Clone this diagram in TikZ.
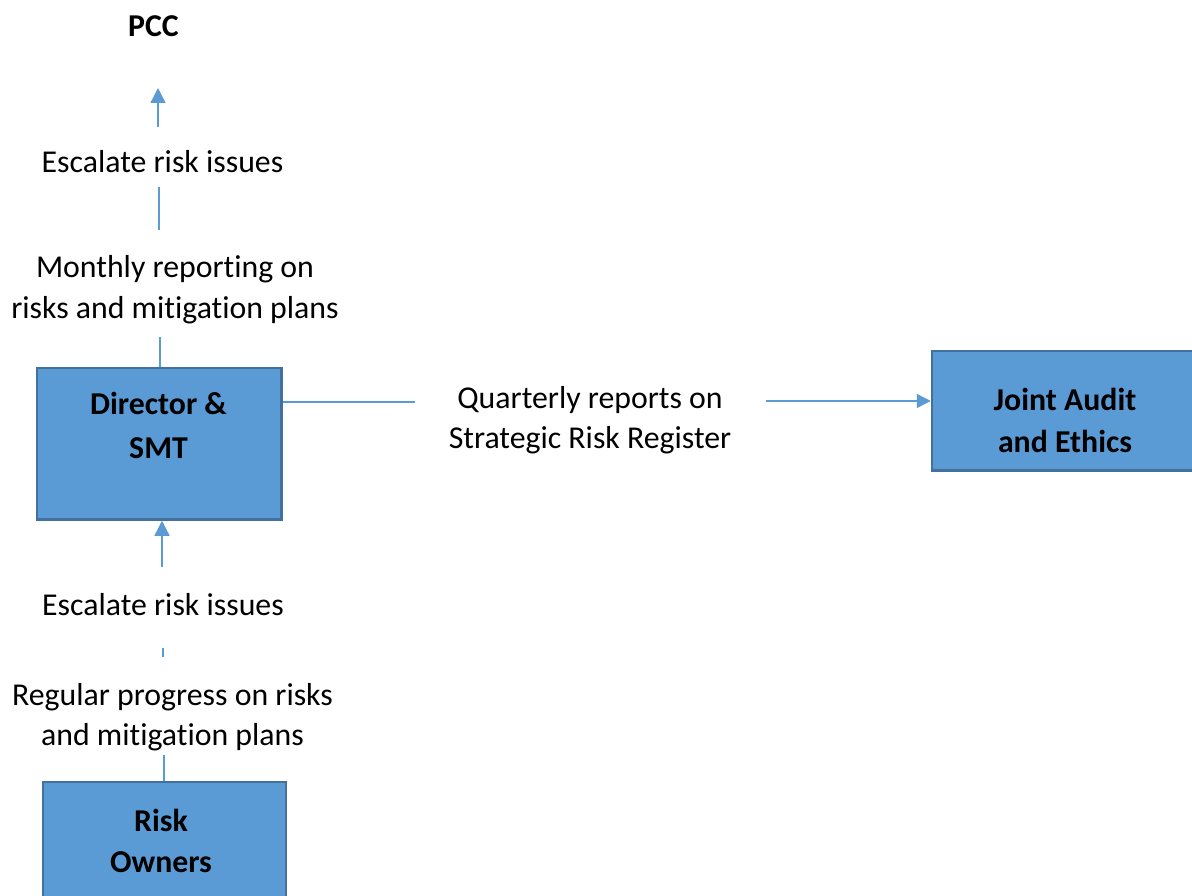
\documentclass[tikz,border=0pt]{standalone}
\usepackage{fontspec}
\setmainfont[Ligatures=CommonOff]{Carlito}
\usetikzlibrary{arrows.meta}
\definecolor{boxfill}{HTML}{5B9BD5}
\definecolor{boxline}{HTML}{41719C}
\definecolor{connc}{HTML}{5B9BD5}
\newcommand\twoline[2]{\begin{tabular}[t]{@{}c@{}}#1\\#2\end{tabular}}
\tikzset{
  lbl/.style={anchor=base, inner sep=0pt, font=\fontsize{31.8}{40}\selectfont},
  btxt/.style={anchor=base, inner sep=0pt, font=\fontsize{31.8}{#1}\selectfont\bfseries},
  btxt/.default=42,
  box/.style={draw=boxline, line width=2.5pt, fill=boxfill, inner sep=0pt},
  conn/.style={draw=connc, line width=1.3pt},
  arr/.style={conn, -{Triangle[width=15pt,length=15pt]}},
  harr/.style={conn, -{Triangle[width=14pt,length=14pt]}},
}
\begin{document}
\begin{tikzpicture}[x=1pt,y=-1pt]
\useasboundingbox (0,0) rectangle (1192,896);
% boxes
\node[box, minimum width=244.5pt, minimum height=151.5pt] (dir) at (159.25,443.75) {};
\node[box, minimum width=278pt, minimum height=119.5pt] (jae) at (1071,410.75) {};
\node[box, minimum width=243pt, minimum height=168pt] (ro) at (164.5,866) {};
% box texts
\node[btxt=44] (dirt) at (158.5,414) {\twoline{Director \&}{SMT}};
\node[btxt] (jaet) at (1065,410) {\twoline{Joint Audit}{and Ethics}};
\node[btxt=41] (rot) at (161,831) {\twoline{Risk}{Owners}};
% labels
\node[btxt] (pcc) at (153.5,37) {PCC};
\node[lbl] (esc1) at (162.5,173) {Escalate risk issues};
\node[lbl] (mon) at (175,278) {\twoline{Monthly reporting on}{risks and mitigation plans}};
\node[lbl] (qtr) at (590,408) {\twoline{Quarterly reports on}{Strategic Risk Register}};
\node[lbl] (esc2) at (163,615) {Escalate risk issues};
\node[lbl] (reg) at (172.5,705) {\twoline{Regular progress on risks}{and mitigation plans}};
% connector end points
\coordinate (a1s) at (158,127);
\coordinate (a1e) at (158,88);
\coordinate (l2s) at (159,187);
\coordinate (l2e) at (159,230);
\coordinate (l3s) at (160,337);
\coordinate (l4e) at (415,402);
\coordinate (a5s) at (766,401);
\coordinate (a6s) at (162,567);
\coordinate (l7s) at (163,648);
\coordinate (l7e) at (163,657);
\coordinate (l8s) at (164,755);
% connectors
\draw[arr] (a1s) -- (a1e);
\draw[conn] (l2s) -- (l2e);
\draw[conn] (l3s) -- (l3s |- dir.north);
\draw[conn] (dir.east |- l4e) -- (l4e);
\draw[harr] (a5s) -- (jae.west |- a5s);
\draw[arr] (a6s) -- (a6s |- dir.south);
\draw[conn] (l7s) -- (l7e);
\draw[conn] (l8s) -- (l8s |- ro.north);
\end{tikzpicture}
\end{document}
